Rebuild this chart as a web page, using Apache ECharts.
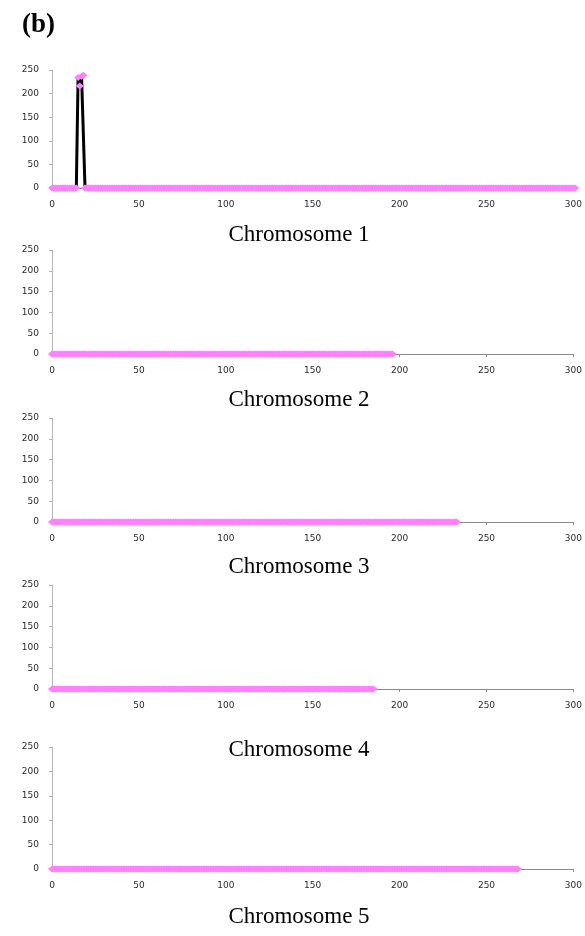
<!DOCTYPE html>
<html>
<head>
<meta charset="utf-8">
<script src="https://cdn.jsdelivr.net/npm/echarts@6/dist/echarts.min.js"></script>
<style>
  html, body { margin: 0; padding: 0; background: #fff; }
  #chart { width: 585px; height: 936px; }
</style>
</head>
<body>
<div id="chart"></div>
<script>
// Signal along each chromosome, one point per 100 kb bin (x in bins).
const chromosomeNames = ['Chromosome 1', 'Chromosome 2', 'Chromosome 3', 'Chromosome 4', 'Chromosome 5'];
const chromosomeBins = [302, 197, 234, 186, 269];   // bins per chromosome; all read as 0 except the peaks below
const chr1PeakBins = [15, 16, 17, 18];
const chr1PeakValues = [234, 216, 237, 239];
const peakBins = [chr1PeakBins, [], [], [], []];
const peakValues = [chr1PeakValues, [], [], [], []];

const xTicks = [0, 50, 100, 150, 200, 250, 300];
const yTicks = [0, 50, 100, 150, 200, 250];

// Panel frames: [top, height] of each plotting area
const panels = [[70, 118], [250, 104], [418, 104], [585, 104], [747, 122]];
const titleY = [235, 400, 567, 750, 917];

function seriesPoints(k) {
  const pts = [];
  for (let b = 0; b < chromosomeBins[k]; b++) {
    const j = peakBins[k].indexOf(b);
    pts.push([b, j >= 0 ? peakValues[k][j] : 0]);
  }
  return pts;
}

const labelStyle = { fontFamily: 'DejaVu Sans', fontSize: 9, color: '#2a2a2a' };

const grid = [], xAxis = [], yAxis = [], series = [], graphic = [];
panels.forEach(([top, height], k) => {
  grid.push({ left: 52, width: 525, top: top, height: height, containLabel: false });
  xAxis.push({
    type: 'value', gridIndex: k, min: xTicks[0], max: xTicks[xTicks.length - 1], interval: 50,
    splitLine: { show: false },
    axisLine: { lineStyle: { color: '#8a8a8a', width: 1 } },
    axisTick: { show: true, length: 3, lineStyle: { color: '#8a8a8a' } },
    axisLabel: Object.assign({ margin: 12 }, labelStyle)
  });
  yAxis.push({
    type: 'value', gridIndex: k, min: yTicks[0], max: yTicks[yTicks.length - 1], interval: 50,
    splitLine: { show: false },
    axisLine: { show: true, lineStyle: { color: '#b5b5b5', width: 1 } },
    axisTick: { show: true, length: 3, lineStyle: { color: '#b5b5b5' } },
    axisLabel: Object.assign({ margin: 13 }, labelStyle)
  });
  series.push({
    type: 'line', xAxisIndex: k, yAxisIndex: k,
    data: seriesPoints(k),
    clip: false,
    showAllSymbol: true,
    symbol: 'diamond', symbolSize: [8, 7],
    itemStyle: { color: '#ff80ff', borderWidth: 0 },
    lineStyle: { color: '#000', width: 3 },
    animation: false
  });
  graphic.push({
    type: 'text', x: 299, y: titleY[k],
    style: {
      text: chromosomeNames[k], fill: '#000',
      font: '23px "Liberation Serif"', textAlign: 'center', textVerticalAlign: 'middle'
    }
  });
});

graphic.push({
  type: 'text', x: 22, y: 25,
  style: { text: '(b)', fill: '#000', font: 'bold 27px "Liberation Serif"', textVerticalAlign: 'middle' }
});

const chart = echarts.init(document.getElementById('chart'), null, { renderer: 'canvas' });
chart.setOption({
  animation: false,
  backgroundColor: '#fff',
  grid, xAxis, yAxis, series, graphic
});
</script>
</body>
</html>
